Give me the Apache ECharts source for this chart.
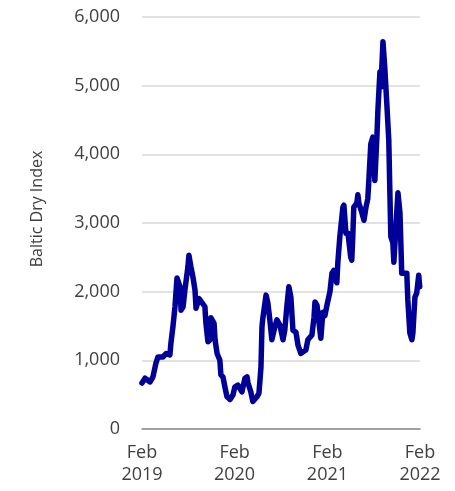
<!DOCTYPE html>
<html>
<head>
<meta charset="utf-8">
<script src="https://cdn.jsdelivr.net/npm/echarts@6/dist/echarts.min.js"></script>
<style>
html,body{margin:0;padding:0;background:#fff;}
#chart{width:455px;height:491px;}
</style>
</head>
<body>
<div id="chart"></div>
<script>
const dates = [
'2019-02-01','2019-02-13','2019-03-05','2019-03-16','2019-03-28','2019-04-05','2019-04-25','2019-05-07','2019-05-22','2019-05-26',
'2019-06-03','2019-06-11','2019-06-19','2019-07-01','2019-07-05','2019-07-13','2019-07-20','2019-08-01','2019-08-05','2019-08-13',
'2019-08-21','2019-08-29','2019-09-02','2019-09-14','2019-09-21','2019-10-07','2019-10-11','2019-10-19','2019-10-27','2019-10-31',
'2019-11-12','2019-11-16','2019-11-24','2019-12-05','2019-12-09','2019-12-17','2019-12-25','2020-01-02','2020-01-14','2020-01-26',
'2020-02-02','2020-02-14','2020-03-01','2020-03-13','2020-03-21','2020-03-25','2020-04-05','2020-04-13','2020-04-29','2020-05-07',
'2020-05-15','2020-05-19','2020-05-23','2020-06-04','2020-06-11','2020-06-19','2020-06-27','2020-07-09','2020-07-17','2020-07-29',
'2020-08-10','2020-08-17','2020-08-25','2020-09-02','2020-09-10','2020-09-18','2020-09-30','2020-10-08','2020-10-19','2020-10-27',
'2020-11-08','2020-11-16','2020-12-02','2020-12-10','2020-12-14','2020-12-22','2021-01-06','2021-01-14','2021-01-22','2021-01-30',
'2021-02-11','2021-02-19','2021-02-26','2021-03-10','2021-03-14','2021-03-22','2021-04-03','2021-04-07','2021-04-15','2021-04-23',
'2021-05-04','2021-05-08','2021-05-12','2021-05-16','2021-05-28','2021-06-01','2021-06-05','2021-06-17','2021-06-25','2021-07-03',
'2021-07-10','2021-07-14','2021-07-22','2021-07-30','2021-08-07','2021-08-15','2021-08-19','2021-08-27','2021-08-31','2021-09-08',
'2021-09-11','2021-09-15','2021-09-23','2021-09-27','2021-10-01','2021-10-05','2021-10-09','2021-10-17','2021-10-21','2021-10-29',
'2021-11-06','2021-11-14','2021-11-21','2021-12-03','2021-12-11','2021-12-15','2021-12-23','2021-12-31','2022-01-04','2022-01-12',
'2022-01-19','2022-01-27','2022-01-31'
];
const bdiValues = [
670,740,685,757,960,1050,1050,1100,1080,1250,
1490,1780,2200,2070,1730,1780,2020,2360,2530,2360,
2210,2020,1760,1900,1880,1780,1540,1270,1300,1620,
1540,1300,1100,1000,790,760,610,470,430,500,
610,640,540,740,760,670,540,400,470,520,
900,1490,1630,1950,1840,1590,1300,1490,1590,1510,
1300,1440,1780,2070,1920,1440,1410,1220,1100,1120,
1150,1300,1370,1620,1850,1800,1320,1700,1650,1800,
2000,2270,2310,2130,2420,2800,3230,3260,2850,2850,
2500,2460,2800,3230,3290,3410,3290,3150,3040,3230,
3350,3600,4150,4250,3620,4250,4640,5200,4980,5640,
5620,5270,4750,4750,4200,3480,2800,2710,2430,2940,
3440,3150,2270,2270,2270,1880,1400,1300,1400,1920,
1980,2240,2070
];
const xTickDates = ['2019-02-01','2020-02-01','2021-02-01','2022-02-01'];
const yTicks = [0,1000,2000,3000,4000,5000,6000];
const yAxisTitle = 'Baltic Dry Index';

const ts = s => new Date(s + 'T00:00:00Z').getTime();
const seriesData = dates.map((d, i) => [ts(d), bdiValues[i]]);
const textColor = '#404040';
const fontFamily = '"Open Sans", "Noto Sans", sans-serif';

const chart = echarts.init(document.getElementById('chart'), null, {renderer: 'canvas'});
chart.setOption({
  animation: false,
  backgroundColor: '#ffffff',
  grid: {left: 142, right: 35, top: 17, bottom: 62, containLabel: false},
  xAxis: {
    type: 'value',
    min: ts(xTickDates[0]),
    max: ts(xTickDates[xTickDates.length - 1]),
    axisLine: {show: true, lineStyle: {color: '#8c8c8c', width: 1.5}},
    axisTick: {show: false},
    splitLine: {show: false},
    axisLabel: {
      customValues: xTickDates.map(ts),
      showMinLabel: true,
      showMaxLabel: true,
      hideOverlap: false,
      margin: 13,
      color: textColor,
      fontFamily: fontFamily,
      fontSize: 18,
      lineHeight: 22,
      formatter: v => 'Feb\n' + new Date(v).getUTCFullYear()
    }
  },
  yAxis: {
    type: 'value',
    min: yTicks[0],
    max: yTicks[yTicks.length - 1],
    interval: 1000,
    axisLine: {show: false},
    axisTick: {show: false},
    splitLine: {show: true, lineStyle: {color: '#d9d9d9', width: 1.5}},
    axisLabel: {
      margin: 22,
      color: textColor,
      fontFamily: fontFamily,
      fontSize: 18,
      formatter: v => v.toLocaleString('en-US')
    }
  },
  graphic: [{
    type: 'text',
    x: 37,
    y: 209,
    rotation: Math.PI / 2,
    style: {
      text: yAxisTitle,
      fill: textColor,
      font: '16px ' + fontFamily,
      textAlign: 'center',
      textVerticalAlign: 'middle'
    }
  }],
  series: [{
    type: 'line',
    data: seriesData,
    showSymbol: false,
    symbol: 'none',
    smooth: false,
    lineStyle: {color: '#000096', width: 5.5, join: 'round', cap: 'round'},
    z: 3
  }]
});
</script>
</body>
</html>
